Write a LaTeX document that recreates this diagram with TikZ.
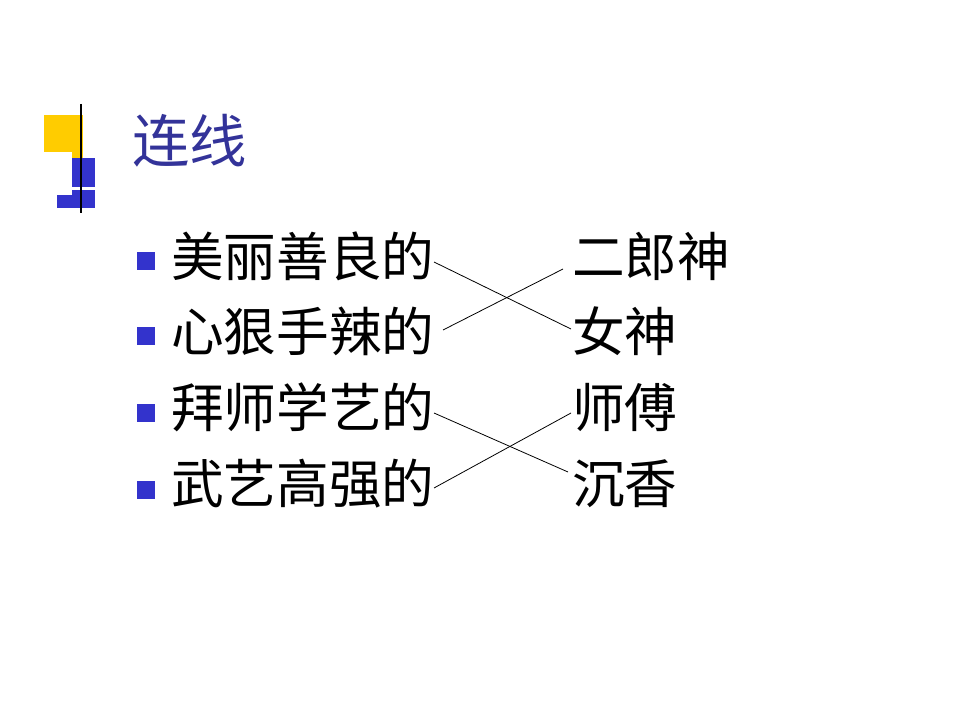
\documentclass[tikz,border=0pt]{standalone}
\usepackage{fontspec}
\newfontfamily\cjk{Noto Sans CJK SC}
\definecolor{titleblue}{HTML}{333399}
\definecolor{bulletblue}{HTML}{3333CC}
\definecolor{logoyellow}{HTML}{FFCC00}
\begin{document}
\begin{tikzpicture}[x=0.75pt,y=-0.75pt,
  item/.style={anchor=west,inner sep=0pt,font=\cjk\fontsize{39.5}{42}\selectfont},
  bul/.style={fill=bulletblue,draw=none,minimum size=13.5pt,inner sep=0pt},
  link/.style={draw=black,line width=0.6pt}]
\useasboundingbox[fill=white] (0,0) rectangle (960,720);
% logo
\fill[logoyellow] (44,115) rectangle (83,152);
\fill[logoyellow] (72,152) rectangle (83,158);
\fill[bulletblue] (72,158) rectangle (95,187);
\fill[bulletblue] (72,190) rectangle (95,208);
\fill[bulletblue] (57,195) rectangle (72,208);
\draw[black,line width=2pt] (81,104) -- (81,213);
% title
\node[anchor=west,inner sep=0pt,text=titleblue,font=\cjk\fontsize{43}{46}\selectfont] (title) at (132,141) {连线};
% bullets
\node[bul] (b1) at (146,261) {};
\node[bul] (b2) at (146,336) {};
\node[bul] (b3) at (146,413) {};
\node[bul] (b4) at (146,490) {};
% left items
\node[item] (l1) at (171,256) {美丽善良的};
\node[item] (l2) at (171,331) {心狠手辣的};
\node[item] (l3) at (171,407) {拜师学艺的};
\node[item] (l4) at (171,484) {武艺高强的};
% right items
\node[item] (r1) at (572,256) {二郎神};
\node[item] (r2) at (572,331) {女神};
\node[item] (r3) at (572,407) {师傅};
\node[item] (r4) at (572,484) {沉香};
% link ends
\coordinate (a1) at (434,262);
\coordinate (e1) at (571,329);
\coordinate (a2) at (443,330);
\coordinate (e2) at (563,269);
\coordinate (a3) at (434,413);
\coordinate (e3) at (568,472);
\coordinate (a4) at (434,488);
\coordinate (e4) at (571,413);
\draw[link] (a1) -- (e1);
\draw[link] (a2) -- (e2);
\draw[link] (a3) -- (e3);
\draw[link] (a4) -- (e4);
\end{tikzpicture}
\end{document}
